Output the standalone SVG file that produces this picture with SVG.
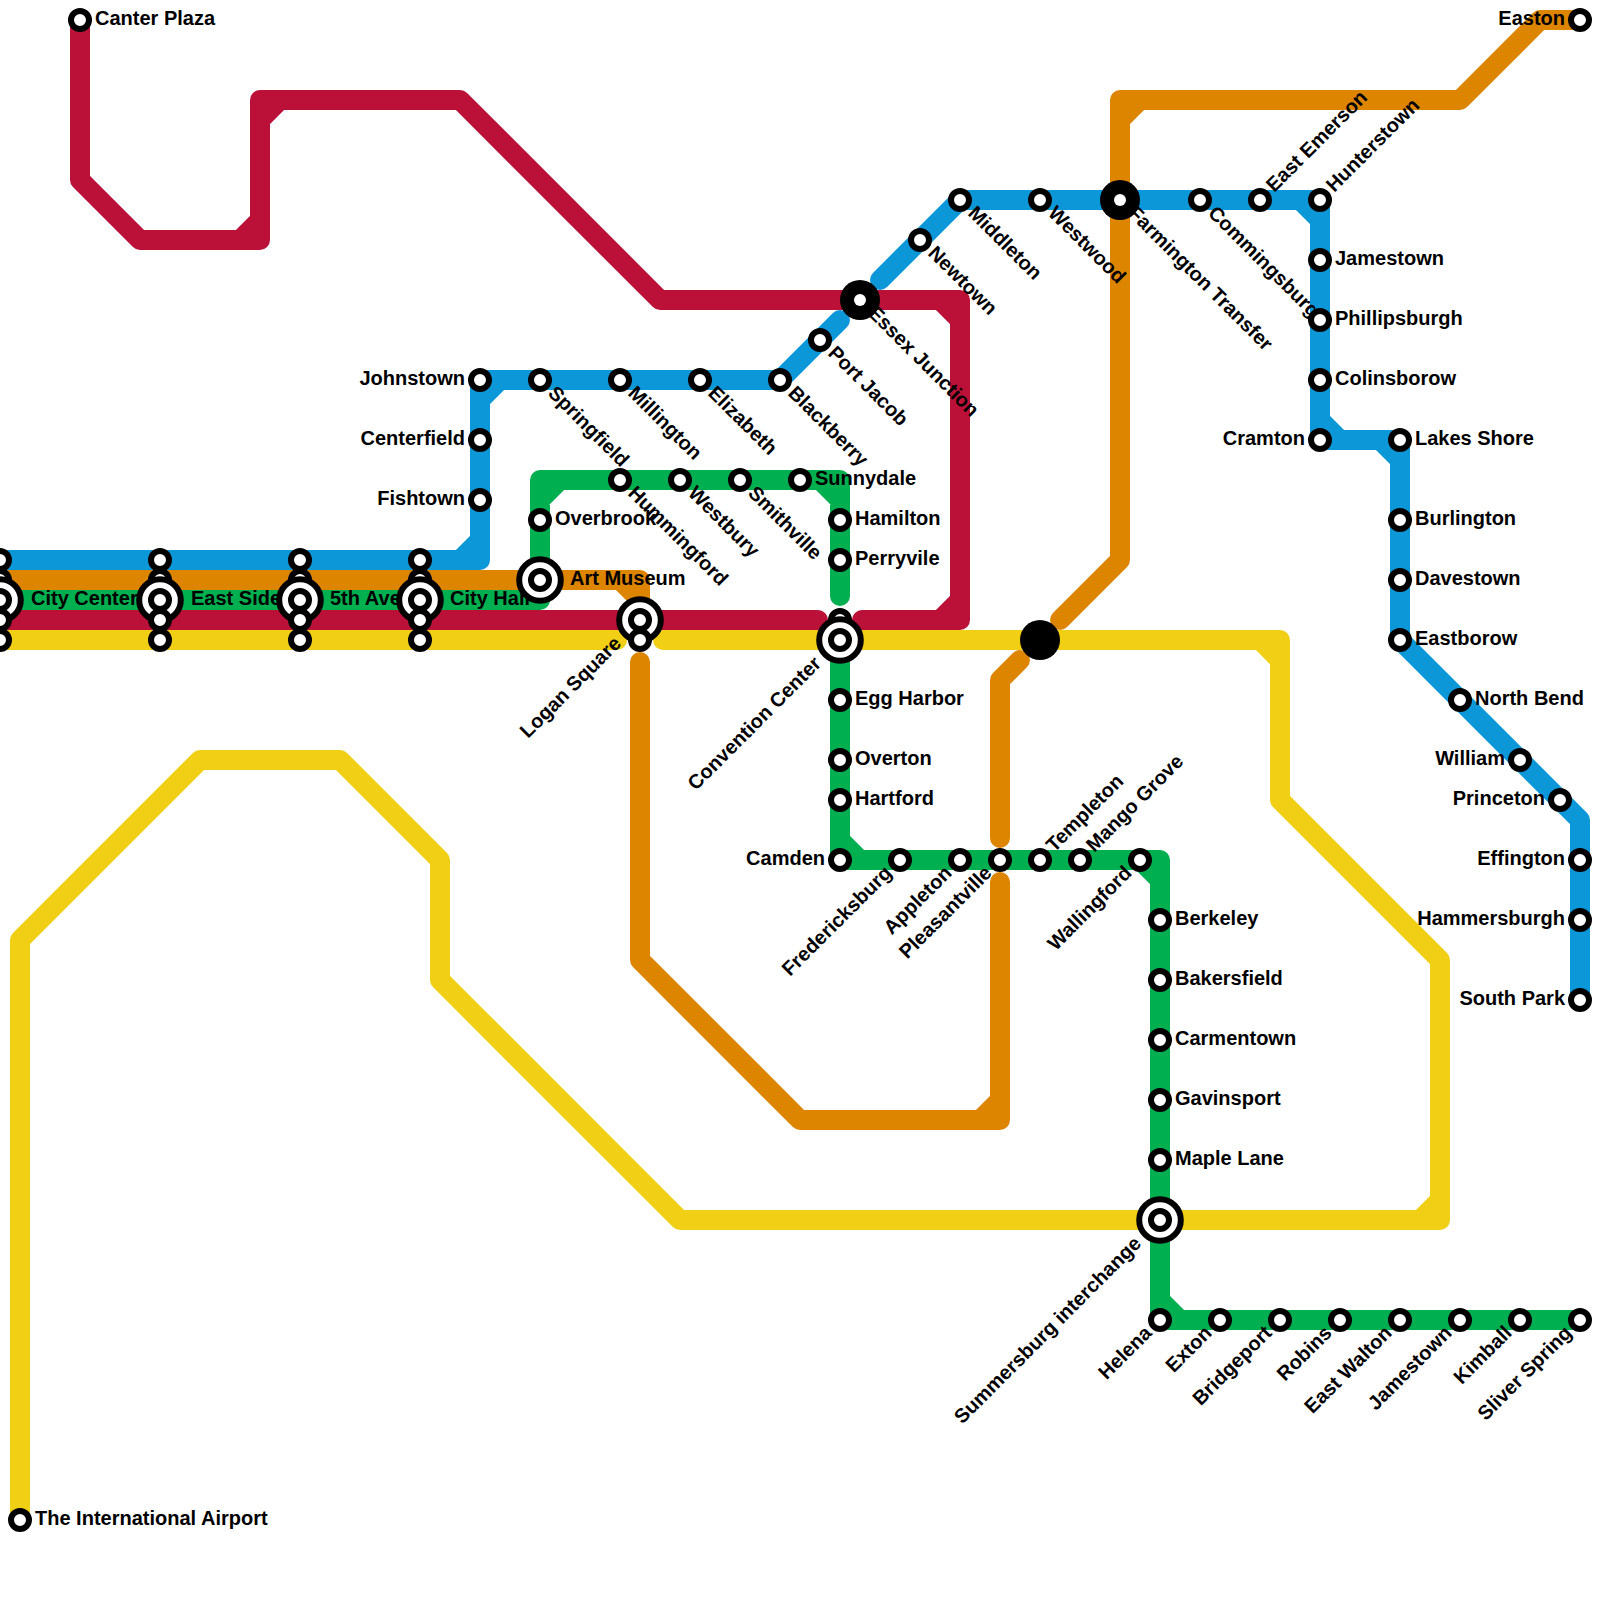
<svg xmlns="http://www.w3.org/2000/svg" width="1600" height="1600" viewBox="0 0 1600 1600">
<style>
.l{fill:none;stroke-width:20;stroke-linecap:round;stroke-linejoin:round}
.blue{stroke:#0b97d8}.orange{stroke:#de8500}.green{stroke:#00b050}.red{stroke:#bb1139}.yellow{stroke:#f0cf15}
.s{fill:#fff;stroke:#000;stroke-width:6}
.i{fill:#fff;stroke:#000;stroke-width:6}
.t{fill:#000;stroke:none}
.w{fill:#fff;stroke:none}
text{font-family:"Liberation Sans",Arial,sans-serif;font-weight:700;font-size:20px;fill:#000}
.e{text-anchor:end}
</style>
<rect width="1600" height="1600" fill="#fff"/>
<g id="connectors">
<path class="l blue" d="M-20 560H480V380H780L840 320M880 280L960 200H1320V440H1400V640L1580 820V1000M460 560L480 540M480 400L500 380M1300 200L1320 220M1320 420L1340 440M1380 440L1400 460"/>
<path class="l orange" d="M1580 20H1540L1460 100H1120V560L1060 620M1020 660L1000 680V838M1000 882V1120H800L640 960V662M640 610V580H-20M1140 100L1120 120M1000 1100L980 1120M640 600L620 580"/>
<path class="l green" d="M-20 600H540V480H840V596M840 640V860H1160V1320H1580M540 500L560 480M820 480L840 500M840 840L860 860M1140 860L1160 880M1160 1300L1180 1320"/>
<path class="l red" d="M80 20V180L140 240H260V100H460L660 300H960V620H862M818 620H-20M240 240L260 220M260 120L280 100M940 300L960 320M960 600L940 620"/>
<path class="l yellow" d="M-20 640H617M663 640H1280V800L1440 960V1220H680L440 980V860L340 760H200L20 940V1520M1260 640L1280 660M1440 1200L1420 1220"/>
</g>
<g id="nodes">
<g id="canter-plaza"><circle class="s" cx="80" cy="20" r="9"/><text x="95" y="25">Canter Plaza</text></g>
<g id="airport"><circle class="s" cx="20" cy="1520" r="9"/><text x="35" y="1525">The International Airport</text></g>
<g id="easton"><circle class="s" cx="1580" cy="20" r="9"/><text class="e" x="1565" y="25">Easton</text></g>

<g id="city-center">
<circle class="s" cx="0" cy="560" r="9"/><circle class="s" cx="0" cy="580" r="9"/>
<text x="31" y="605">City Center</text>
<circle class="i" cx="0" cy="600" r="20.8"/><circle class="s" cx="0" cy="600" r="9"/>
<circle class="s" cx="0" cy="620" r="9"/><circle class="s" cx="0" cy="640" r="9"/></g>
<g id="east-side">
<circle class="s" cx="160" cy="560" r="9"/><circle class="s" cx="160" cy="580" r="9"/>
<text x="191" y="605">East Side</text>
<circle class="i" cx="160" cy="600" r="20.8"/><circle class="s" cx="160" cy="600" r="9"/>
<circle class="s" cx="160" cy="620" r="9"/><circle class="s" cx="160" cy="640" r="9"/></g>
<g id="fifth-ave">
<circle class="s" cx="300" cy="560" r="9"/><circle class="s" cx="300" cy="580" r="9"/>
<text x="330" y="605">5th Ave</text>
<circle class="i" cx="300" cy="600" r="20.8"/><circle class="s" cx="300" cy="600" r="9"/>
<circle class="s" cx="300" cy="620" r="9"/><circle class="s" cx="300" cy="640" r="9"/></g>
<g id="city-hall">
<circle class="s" cx="420" cy="560" r="9"/><circle class="s" cx="420" cy="580" r="9"/>
<text x="450" y="605">City Hall</text>
<circle class="i" cx="420" cy="600" r="20.8"/><circle class="s" cx="420" cy="600" r="9"/>
<circle class="s" cx="420" cy="620" r="9"/><circle class="s" cx="420" cy="640" r="9"/></g>

<g id="art-museum"><text x="570" y="585">Art Museum</text><circle class="i" cx="540" cy="580" r="20.8"/><circle class="s" cx="540" cy="580" r="9"/></g>
<g id="logan-square"><circle class="i" cx="640" cy="620" r="20.8"/><circle class="s" cx="640" cy="620" r="9"/><circle class="s" cx="640" cy="640" r="9"/><text class="e" transform="translate(640 620) rotate(-45)" x="-30" y="5">Logan Square</text></g>
<g id="convention-center"><circle class="s" cx="840" cy="620" r="9"/><circle class="i" cx="840" cy="640" r="20.8"/><circle class="s" cx="840" cy="640" r="9"/><text class="e" transform="translate(840 640) rotate(-45)" x="-30" y="5">Convention Center</text></g>
<g id="summersburg"><circle class="i" cx="1160" cy="1220" r="20.8"/><circle class="s" cx="1160" cy="1220" r="9"/><text class="e" transform="translate(1160 1220) rotate(-45)" x="-30" y="5">Summersburg interchange</text></g>

<g id="essex-junction"><circle class="t" cx="860" cy="300" r="20"/><circle class="w" cx="860" cy="300" r="6"/><text transform="translate(860 300) rotate(45)" x="15" y="5">Essex Junction</text></g>
<g id="farmington-transfer"><circle class="t" cx="1120" cy="200" r="20"/><circle class="w" cx="1120" cy="200" r="6"/><text transform="translate(1120 200) rotate(45)" x="15" y="5">Farmington Transfer</text></g>
<g id="junction"><circle class="t" cx="1040" cy="640" r="20"/></g>

<g id="johnstown"><circle class="s" cx="480" cy="380" r="9"/><text class="e" x="465" y="385">Johnstown</text></g>
<g id="centerfield"><circle class="s" cx="480" cy="440" r="9"/><text class="e" x="465" y="445">Centerfield</text></g>
<g id="fishtown"><circle class="s" cx="480" cy="500" r="9"/><text class="e" x="465" y="505">Fishtown</text></g>
<g id="springfield"><circle class="s" cx="540" cy="380" r="9"/><text transform="translate(540 380) rotate(45)" x="15" y="5">Springfield</text></g>
<g id="millington"><circle class="s" cx="620" cy="380" r="9"/><text transform="translate(620 380) rotate(45)" x="15" y="5">Millington</text></g>
<g id="elizabeth"><circle class="s" cx="700" cy="380" r="9"/><text transform="translate(700 380) rotate(45)" x="15" y="5">Elizabeth</text></g>
<g id="blackberry"><circle class="s" cx="780" cy="380" r="9"/><text transform="translate(780 380) rotate(45)" x="15" y="5">Blackberry</text></g>
<g id="port-jacob"><circle class="s" cx="820" cy="340" r="9"/><text transform="translate(820 340) rotate(45)" x="15" y="5">Port Jacob</text></g>
<g id="newtown"><circle class="s" cx="920" cy="240" r="9"/><text transform="translate(920 240) rotate(45)" x="15" y="5">Newtown</text></g>
<g id="middleton"><circle class="s" cx="960" cy="200" r="9"/><text transform="translate(960 200) rotate(45)" x="15" y="5">Middleton</text></g>
<g id="westwood"><circle class="s" cx="1040" cy="200" r="9"/><text transform="translate(1040 200) rotate(45)" x="15" y="5">Westwood</text></g>
<g id="commingsburg"><circle class="s" cx="1200" cy="200" r="9"/><text transform="translate(1200 200) rotate(45)" x="15" y="5">Commingsburg</text></g>
<g id="east-emerson"><circle class="s" cx="1260" cy="200" r="9"/><text transform="translate(1260 200) rotate(-45)" x="15" y="5">East Emerson</text></g>
<g id="hunterstown"><circle class="s" cx="1320" cy="200" r="9"/><text transform="translate(1320 200) rotate(-45)" x="15" y="5">Hunterstown</text></g>
<g id="jamestown-n"><circle class="s" cx="1320" cy="260" r="9"/><text x="1335" y="265">Jamestown</text></g>
<g id="phillipsburgh"><circle class="s" cx="1320" cy="320" r="9"/><text x="1335" y="325">Phillipsburgh</text></g>
<g id="colinsborow"><circle class="s" cx="1320" cy="380" r="9"/><text x="1335" y="385">Colinsborow</text></g>
<g id="cramton"><circle class="s" cx="1320" cy="440" r="9"/><text class="e" x="1305" y="445">Cramton</text></g>
<g id="lakes-shore"><circle class="s" cx="1400" cy="440" r="9"/><text x="1415" y="445">Lakes Shore</text></g>
<g id="burlington"><circle class="s" cx="1400" cy="520" r="9"/><text x="1415" y="525">Burlington</text></g>
<g id="davestown"><circle class="s" cx="1400" cy="580" r="9"/><text x="1415" y="585">Davestown</text></g>
<g id="eastborow"><circle class="s" cx="1400" cy="640" r="9"/><text x="1415" y="645">Eastborow</text></g>
<g id="north-bend"><circle class="s" cx="1460" cy="700" r="9"/><text x="1475" y="705">North Bend</text></g>
<g id="william"><circle class="s" cx="1520" cy="760" r="9"/><text class="e" x="1505" y="765">William</text></g>
<g id="princeton"><circle class="s" cx="1560" cy="800" r="9"/><text class="e" x="1545" y="805">Princeton</text></g>
<g id="effington"><circle class="s" cx="1580" cy="860" r="9"/><text class="e" x="1565" y="865">Effington</text></g>
<g id="hammersburgh"><circle class="s" cx="1580" cy="920" r="9"/><text class="e" x="1565" y="925">Hammersburgh</text></g>
<g id="south-park"><circle class="s" cx="1580" cy="1000" r="9"/><text class="e" x="1565" y="1005">South Park</text></g>

<g id="overbrook"><circle class="s" cx="540" cy="520" r="9"/><text x="555" y="525">Overbrook</text></g>
<g id="hummingford"><circle class="s" cx="620" cy="480" r="9"/><text transform="translate(620 480) rotate(45)" x="15" y="5">Hummingford</text></g>
<g id="westbury"><circle class="s" cx="680" cy="480" r="9"/><text transform="translate(680 480) rotate(45)" x="15" y="5">Westbury</text></g>
<g id="smithville"><circle class="s" cx="740" cy="480" r="9"/><text transform="translate(740 480) rotate(45)" x="15" y="5">Smithville</text></g>
<g id="sunnydale"><circle class="s" cx="800" cy="480" r="9"/><text x="815" y="485">Sunnydale</text></g>
<g id="hamilton"><circle class="s" cx="840" cy="520" r="9"/><text x="855" y="525">Hamilton</text></g>
<g id="perryvile"><circle class="s" cx="840" cy="560" r="9"/><text x="855" y="565">Perryvile</text></g>
<g id="egg-harbor"><circle class="s" cx="840" cy="700" r="9"/><text x="855" y="705">Egg Harbor</text></g>
<g id="overton"><circle class="s" cx="840" cy="760" r="9"/><text x="855" y="765">Overton</text></g>
<g id="hartford"><circle class="s" cx="840" cy="800" r="9"/><text x="855" y="805">Hartford</text></g>
<g id="camden"><circle class="s" cx="840" cy="860" r="9"/><text class="e" x="825" y="865">Camden</text></g>
<g id="fredericksburg"><circle class="s" cx="900" cy="860" r="9"/><text class="e" transform="translate(900 860) rotate(-45)" x="-15" y="5">Fredericksburg</text></g>
<g id="appleton"><circle class="s" cx="960" cy="860" r="9"/><text class="e" transform="translate(960 860) rotate(-45)" x="-15" y="5">Appleton</text></g>
<g id="pleasantville"><circle class="s" cx="1000" cy="860" r="9"/><text class="e" transform="translate(1000 860) rotate(-45)" x="-15" y="5">Pleasantville</text></g>
<g id="templeton"><circle class="s" cx="1040" cy="860" r="9"/><text transform="translate(1040 860) rotate(-45)" x="15" y="5">Templeton</text></g>
<g id="mango-grove"><circle class="s" cx="1080" cy="860" r="9"/><text transform="translate(1080 860) rotate(-45)" x="15" y="5">Mango Grove</text></g>
<g id="wallingford"><circle class="s" cx="1140" cy="860" r="9"/><text class="e" transform="translate(1140 860) rotate(-45)" x="-15" y="5">Wallingford</text></g>
<g id="berkeley"><circle class="s" cx="1160" cy="920" r="9"/><text x="1175" y="925">Berkeley</text></g>
<g id="bakersfield"><circle class="s" cx="1160" cy="980" r="9"/><text x="1175" y="985">Bakersfield</text></g>
<g id="carmentown"><circle class="s" cx="1160" cy="1040" r="9"/><text x="1175" y="1045">Carmentown</text></g>
<g id="gavinsport"><circle class="s" cx="1160" cy="1100" r="9"/><text x="1175" y="1105">Gavinsport</text></g>
<g id="maple-lane"><circle class="s" cx="1160" cy="1160" r="9"/><text x="1175" y="1165">Maple Lane</text></g>
<g id="helena"><circle class="s" cx="1160" cy="1320" r="9"/><text class="e" transform="translate(1160 1320) rotate(-45)" x="-15" y="5">Helena</text></g>
<g id="exton"><circle class="s" cx="1220" cy="1320" r="9"/><text class="e" transform="translate(1220 1320) rotate(-45)" x="-15" y="5">Exton</text></g>
<g id="bridgeport"><circle class="s" cx="1280" cy="1320" r="9"/><text class="e" transform="translate(1280 1320) rotate(-45)" x="-15" y="5">Bridgeport</text></g>
<g id="robins"><circle class="s" cx="1340" cy="1320" r="9"/><text class="e" transform="translate(1340 1320) rotate(-45)" x="-15" y="5">Robins</text></g>
<g id="east-walton"><circle class="s" cx="1400" cy="1320" r="9"/><text class="e" transform="translate(1400 1320) rotate(-45)" x="-15" y="5">East Walton</text></g>
<g id="jamestown-s"><circle class="s" cx="1460" cy="1320" r="9"/><text class="e" transform="translate(1460 1320) rotate(-45)" x="-15" y="5">Jamestown</text></g>
<g id="kimball"><circle class="s" cx="1520" cy="1320" r="9"/><text class="e" transform="translate(1520 1320) rotate(-45)" x="-15" y="5">Kimball</text></g>
<g id="sliver-spring"><circle class="s" cx="1580" cy="1320" r="9"/><text class="e" transform="translate(1580 1320) rotate(-45)" x="-15" y="5">Sliver Spring</text></g>
</g>
</svg>
